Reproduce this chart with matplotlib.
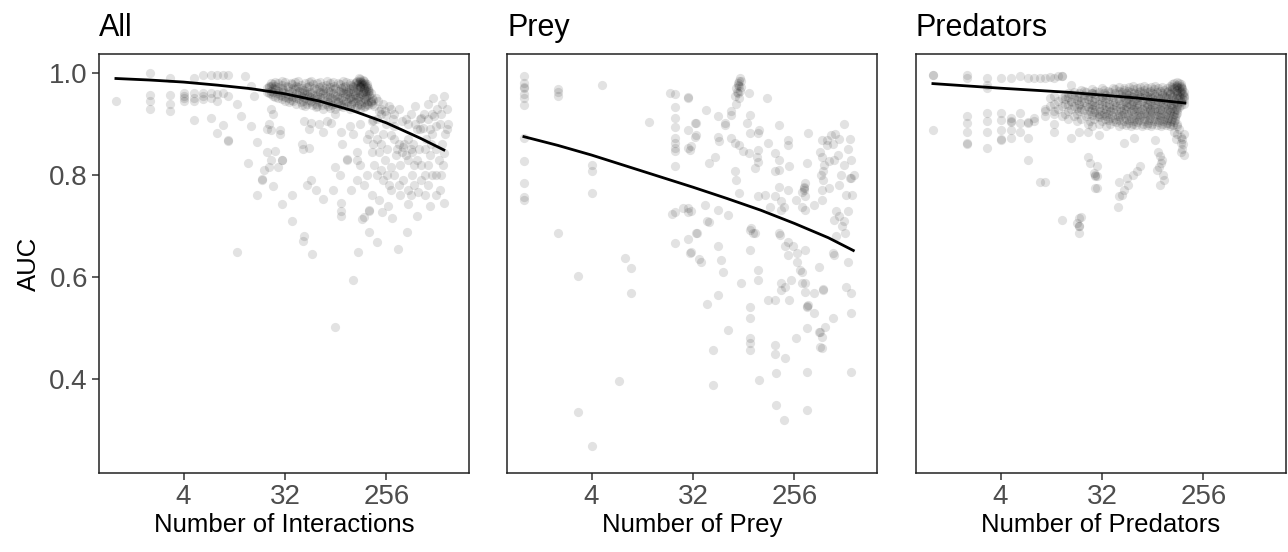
import numpy as np
import matplotlib
matplotlib.use("Agg")
import matplotlib.pyplot as plt

plt.rcParams["font.family"] = ["Liberation Sans", "DejaVu Sans"]

# -----------------------------
# Data
# -----------------------------
# All interactions: (number of interactions, AUC)
all_points = [
    (1, .945),
    (2, 1.0), (2, .957), (2, .945), (2, .93),
    (3, .99), (3, .957), (3, .94), (3, .925),
    (4, .96), (4, .95), (4, .945), (4, .955),
    (5, .99), (5, .96), (5, .95), (5, .945), (5, .908),
    (6, .995), (6, .955), (6, .96), (6, .948),
    (7, .995), (7, .96), (7, .95), (7, .912),
    (8, .995), (8, .958), (8, .945), (8, .882),
    (9, .995), (9, .96), (9, .898),
    (10, .995), (10, .955), (10, .868), (10, .866),
    (12, .94), (12, .65), (13, .916), (14, .994),
    (16, .975), (17, .955), (16, .896), (15, .824),
    (18, .865), (18, .76), (20, .79), (20, .792), (21, .81),
    (25, .778), (26, .847),
    (24, .975), (24, .93), (25, .92), (29, .888), (29, .88), (30, .83),
    # dense band
    (30, .985), (42, .985), (55, .985), (75, .985), (105, .985), (140, .985), (150, .988), (160, .985),
    (24, .98), (28, .98), (36, .98), (48, .98), (62, .98), (80, .98), (95, .98), (120, .98),
    (135, .98), (145, .982), (155, .98), (165, .98),
    (23, .975), (26, .975), (33, .975), (40, .975), (52, .975), (68, .975), (88, .975), (110, .975),
    (128, .975), (150, .975), (170, .975),
    (22, .97), (25, .97), (30, .97), (38, .97), (45, .97), (58, .97), (72, .97), (90, .97),
    (100, .97), (118, .97), (140, .97), (160, .97), (175, .97),
    (24, .965), (28, .965), (35, .965), (43, .965), (50, .965), (64, .965), (78, .965), (96, .965),
    (112, .965), (130, .965), (150, .965), (168, .965), (180, .965),
    (23, .96), (27, .96), (32, .96), (40, .96), (47, .96), (56, .96), (70, .96), (85, .96),
    (105, .96), (122, .96), (145, .96), (165, .96), (185, .96),
    (25, .955), (30, .955), (36, .955), (44, .955), (52, .955), (62, .955), (76, .955), (92, .955),
    (110, .955), (128, .955), (150, .955), (172, .955),
    (28, .95), (34, .95), (40, .95), (48, .95), (58, .95), (70, .95), (84, .95), (100, .95),
    (118, .95), (136, .95), (160, .95), (190, .95),
    (32, .945), (38, .945), (46, .945), (55, .945), (66, .945), (80, .945), (95, .945), (112, .945),
    (130, .945), (150, .945), (175, .945),
    (40, .94), (50, .94), (60, .94), (74, .94), (88, .94), (105, .94), (125, .94), (145, .94), (170, .94),
    (48, .935), (62, .935), (78, .935), (96, .935), (115, .935), (140, .935), (165, .935),
    (70, .93), (90, .93), (120, .93), (150, .93),
    (26, .983), (32, .982), (39, .983), (52, .982), (66, .983), (86, .982), (112, .983), (138, .982),
    (152, .983),
    (25, .978), (30, .977), (37, .978), (44, .977), (57, .978), (74, .977), (98, .978), (125, .977),
    (142, .978), (158, .977), (172, .978),
    (23, .973), (28, .972), (34, .973), (42, .972), (50, .973), (64, .972), (80, .973), (104, .972),
    (130, .973), (150, .972), (168, .973),
    (26, .968), (31, .967), (39, .968), (47, .967), (60, .968), (70, .967), (86, .968), (106, .967),
    (124, .968), (142, .967), (160, .968), (176, .967),
    (22, .963), (25, .962), (30, .963), (37, .962), (45, .963), (53, .962), (66, .963), (80, .962),
    (100, .963), (116, .962), (138, .963), (158, .962), (176, .963),
    (24, .958), (29, .957), (34, .958), (42, .957), (50, .958), (59, .957), (72, .958), (90, .957),
    (114, .958), (134, .957), (156, .958), (178, .957),
    (26, .953), (32, .952), (38, .953), (46, .952), (55, .953), (66, .952), (80, .953), (96, .952),
    (120, .953), (142, .952), (168, .953),
    (30, .948), (36, .947), (43, .948), (52, .947), (62, .948), (75, .947), (90, .948), (106, .947),
    (124, .948), (144, .947), (165, .948), (195, .947),
    (35, .943), (44, .942), (53, .943), (64, .942), (78, .943), (94, .942), (115, .943), (135, .942),
    (160, .943), (185, .942),
    (45, .938), (56, .937), (68, .938), (84, .937), (100, .938), (125, .937), (152, .938), (175, .937),
    (60, .933), (80, .932), (105, .933), (135, .932), (160, .933),
    (145, .99), (150, .984), (152, .978), (148, .972), (158, .986), (162, .978),
    (190, .94), (200, .935), (215, .945), (230, .93), (250, .925), (270, .935), (300, .92),
    (205, .95), (185, .945), (220, .925), (240, .94),
    # below the band
    (23, .90), (22, .89), (24, .888), (22, .845), (24, .83), (28, .815), (23, .815), (30, .83),
    (45, .86), (46, .85), (52, .853), (47, .905), (55, .902), (52, .89), (64, .90), (70, .885),
    (75, .905), (82, .902), (90, .92), (100, .885), (102, .86), (120, .895), (128, .88),
    (140, .845), (140, .83), (115, .83), (115, .832), (90, .815), (98, .80), (55, .79), (50, .78),
    (60, .77), (85, .77), (125, .77), (180, .88), (195, .86), (190, .845), (220, .845), (250, .83),
    (280, .815), (240, .88), (280, .878), (350, .845), (400, .83), (450, .82), (430, .80),
    (480, .83), (240, .79), (280, .77), (210, .80), (140, .79), (160, .78), (560, .85), (620, .84),
    (480, .89), (540, .892), (460, .90), (510, .91), (515, .912), (600, .91), (680, .915),
    (620, .89), (700, .895), (256, .918), (460, .935), (550, .92), (830, .955), (880, .89),
    (840, .843), (510, .89), (290, .91), (350, .905), (190, .905), (195, .908),
    (150, .90), (170, .87), (200, .89), (210, .87), (230, .86), (260, .85), (300, .87), (320, .85),
    (340, .82), (370, .86), (380, .84), (420, .85), (440, .86), (500, .85), (520, .82), (560, .80),
    (600, .82), (640, .86), (700, .85), (750, .83), (800, .86), (850, .88), (900, .90), (760, .90),
    (650, .88), (580, .87), (300, .80), (330, .78), (360, .79), (400, .77), (450, .78), (520, .79),
    (600, .78), (650, .80), (700, .80), (760, .77), (150, .82), (170, .80), (200, .82), (230, .81),
    (260, .80), (270, .78), (190, .76), (340, .76), (420, .76), (560, .76), (620, .74), (700, .76),
    (780, .80), (820, .82), (650, .92), (720, .93), (780, .92), (880, .93), (600, .94), (660, .95),
    (800, .94), (400, .90), (420, .92), (380, .91), (330, .93), (280, .93), (230, .92), (300, .895),
    (256, .90), (210, .91), (330, .86), (360, .855), (400, .87), (310, .84), (430, .845),
    # lower tail
    (37, .76), (30, .743), (69, .753), (37, .71), (47, .68), (46, .67), (56, .645), (128, .594),
    (90, .502), (143, .65), (180, .688), (210, .668), (325, .655), (390, .688), (840, .745),
    (480, .72), (285, .716), (155, .714), (160, .718), (180, .73), (180, .732), (235, .727),
    (100, .72), (100, .73), (100, .745), (220, .75), (265, .74), (400, .743), (490, .767),
]

# Prey: (number of prey, AUC)
prey_points = [
    (1, .994), (1, .98), (1, .971), (1, .972), (1, .959), (1, .95), (1, .937), (1, .873),
    (1, .827), (1, .785), (1, .757), (1, .751),
    (2, .968), (2, .962), (2, .955), (2, .686),
    (3, .602), (3, .335), (4, .82), (4, .808), (4, .765), (4, .269), (5, .976), (7, .396),
    (8, .637), (9, .617), (9, .569), (13, .904),
    (20, .96), (22, .958), (22, .934), (22, .911), (22, .893), (22, .872), (22, .862), (22, .853),
    (22, .846), (22, .817), (22, .727), (21, .723), (22, .667),
    (29, .953), (29, .889), (29, .853), (29, .735), (29, .674),
    (26, .735), (31, .729), (31, .856), (31, .649), (34, .902), (34, .879), (34, .686), (36, .635),
    (86, .985), (80, .98), (82, .975), (78, .97), (84, .965), (80, .96), (76, .955), (100, .96),
    (84, .99), (82, .984), (80, .977), (85, .972), (79, .962), (82, .95), (78, .94),
    (147, .951), (102, .918), (70, .918), (62, .902), (42, .928), (33, .902), (29, .95),
    (53, .875), (55, .866), (75, .862), (82, .859), (124, .889), (120, .849), (100, .843),
    (185, .898), (226, .869), (226, .859), (340, .882), (446, .869), (540, .879), (580, .83),
    (460, .807), (460, .79), (446, .771), (520, .774), (820, .794), (50, .836), (75, .807),
    (78, .79), (44, .823), (115, .813), (170, .807), (185, .83), (230, .817), (310, .774),
    (318, .758), (380, .741), (446, .751), (580, .712), (720, .686), (29, .728), (41, .741),
    (53, .732), (43, .709), (44, .707), (66, .722), (35, .686), (30, .647), (53, .66), (38, .63),
    (57, .633), (59, .61), (102, .653), (115, .686), (120, .614), (120, .594), (85, .588),
    (102, .692), (155, .738), (190, .683), (226, .669), (250, .66), (195, .732), (300, .738),
    (318, .732), (318, .653), (226, .643), (270, .63), (300, .61), (195, .575), (210, .581),
    (170, .555), (150, .555), (230, .555), (300, .588), (330, .542), (332, .544), (380, .568),
    (460, .575), (462, .577), (420, .62), (560, .647), (760, .63), (740, .581), (820, .568),
    (580, .643), (820, .529), (102, .542), (102, .519), (43, .548), (53, .565), (65, .496),
    (102, .48), (102, .47), (102, .457), (48, .457), (170, .467), (170, .45), (265, .48),
    (330, .50), (446, .483), (430, .493), (560, .519), (446, .46), (210, .441), (175, .411),
    (330, .414), (820, .414), (48, .388), (123, .398), (175, .349), (330, .339), (205, .32),
    (500, .859), (500, .869), (520, .827), (800, .794), (310, .777), (265, .751), (195, .748),
    (205, .738), (140, .761), (105, .696), (110, .686), (185, .686), (210, .66), (270, .647),
    (285, .614), (240, .594), (195, .588), (318, .588), (318, .571), (340, .545), (380, .529),
    (420, .493), (435, .463), (480, .503), (53, .915), (62, .898), (70, .872), (90, .846),
    (33, .875), (30, .849), (70, .925), (97, .902), (102, .882), (120, .882), (150, .862),
    (118, .836), (170, .843), (185, .81), (120, .826), (82, .764), (120, .758), (170, .758),
    (185, .777), (226, .771), (300, .767), (330, .823), (318, .784), (310, .771),
    (590, .88), (640, .87), (700, .90), (560, .86), (620, .84), (700, .82), (660, .80),
    (760, .85), (820, .83), (860, .80), (800, .87), (740, .76), (640, .78), (600, .73),
    (700, .71), (760, .73), (840, .76), (430, .845), (450, .835), (470, .82), (440, .80),
    (640, .72), (680, .70), (600, .68),
]

# Predators: (number of predators, AUC)
pred_points = [
    (1, .996), (1, .995), (1, .889),
    (2, .996), (2, .99), (2, .915), (2, .902), (2, .885), (2, .862), (2, .861),
    (3, .99), (3, .977), (3, .97), (3, .921), (3, .905), (3, .885), (3, .853),
    (4, .99), (4, .921), (4, .908), (4, .889), (4, .869), (4, .87),
    (5, .99), (5, .911), (5, .905), (5, .904), (5, .889), (5, .872),
    (6, .993), (6, .921), (6, .902), (6, .885),
    (7, .99), (7, .902), (7, .903), (7, .872), (7, .83),
    (8, .99), (8, .911), (8, .905), (9, .99), (10, .99), (11, .992), (9, .787), (10, .787),
    (10, .915), (12, .99), (12, .90), (12, .885), (13, .993), (14, .993), (14, .994),
    (17, .977), (21, .967), (26, .96), (17, .872), (20, .885),
    (24, .885), (24, .836), (25, .823), (27, .803), (28, .797), (28, .80), (28, .774),
    (14, .712), (20, .715), (20, .699), (20, .70), (21, .718), (20, .686), (19, .705),
    (45, .758), (44, .738), (48, .76), (53, .794), (45, .787), (70, .817), (65, .807), (60, .80),
    (55, .78), (50, .77), (29, .817), (29, .797), (29, .774), (30, .879), (50, .862), (62, .872),
    (95, .869),
    (100, .845), (105, .838), (110, .83), (108, .823), (102, .815), (98, .81), (112, .80),
    (115, .79), (105, .78),
    (140, .885), (150, .88), (160, .875), (165, .87), (170, .88), (155, .89), (145, .87),
    (160, .862), (168, .86), (165, .85), (170, .84), (160, .845),
    # dense cluster
    (140, .98), (150, .982), (155, .98),
    (60, .975), (75, .975), (95, .975), (130, .975), (145, .975), (160, .975),
    (32, .97), (40, .97), (50, .97), (65, .97), (80, .97), (100, .97), (120, .97), (140, .97),
    (155, .97), (165, .97),
    (22, .965), (28, .965), (36, .965), (45, .965), (55, .965), (70, .965), (85, .965),
    (105, .965), (125, .965), (145, .965), (160, .965),
    (16, .96), (20, .96), (26, .96), (33, .96), (42, .96), (52, .96), (62, .96), (75, .96),
    (90, .96), (110, .96), (130, .96), (150, .96), (165, .96),
    (12, .955), (15, .955), (19, .955), (24, .955), (30, .955), (38, .955), (48, .955), (58, .955),
    (68, .955), (80, .955), (95, .955), (115, .955), (135, .955), (155, .955), (170, .955),
    (11, .95), (14, .95), (18, .95), (22, .95), (28, .95), (35, .95), (44, .95), (54, .95),
    (64, .95), (76, .95), (90, .95), (105, .95), (125, .95), (145, .95), (165, .95),
    (13, .945), (17, .945), (21, .945), (26, .945), (32, .945), (40, .945), (50, .945),
    (60, .945), (72, .945), (86, .945), (100, .945), (118, .945), (140, .945), (160, .945),
    (12, .94), (15, .94), (20, .94), (25, .94), (30, .94), (37, .94), (46, .94),
    (56, .94), (66, .94), (80, .94), (95, .94), (112, .94), (132, .94), (150, .94), (170, .94),
    (11, .935), (14, .935), (18, .935), (23, .935), (28, .935), (35, .935), (43, .935),
    (52, .935), (62, .935), (75, .935), (90, .935), (108, .935), (128, .935), (150, .935),
    (10, .93), (13, .93), (17, .93), (21, .93), (26, .93), (33, .93), (40, .93),
    (50, .93), (60, .93), (72, .93), (86, .93), (104, .93), (125, .93), (145, .93),
    (10, .925), (12, .925), (16, .925), (20, .925), (25, .925), (31, .925), (38, .925),
    (47, .925), (58, .925), (70, .925), (85, .925), (100, .925), (120, .925), (140, .925),
    (12, .92), (15, .92), (19, .92), (24, .92), (30, .92), (36, .92), (45, .92),
    (55, .92), (68, .92), (82, .92), (98, .92), (118, .92), (140, .92),
    (14, .915), (18, .915), (23, .915), (29, .915), (35, .915), (44, .915),
    (54, .915), (66, .915), (80, .915), (96, .915), (116, .915), (138, .915),
    (16, .91), (21, .91), (27, .91), (34, .91), (42, .91), (52, .91), (64, .91),
    (78, .91), (95, .91), (115, .91), (135, .91),
    (19, .905), (25, .905), (32, .905), (40, .905), (50, .905), (62, .905),
    (76, .905), (92, .905), (112, .905), (132, .905),
    (24, .90), (30, .90), (38, .90), (48, .90), (60, .90), (74, .90), (90, .90),
    (110, .90), (130, .90), (150, .90),
    (26, .895), (35, .895), (45, .895), (58, .895), (72, .895), (88, .895), (108, .895),
    (128, .895), (148, .895),
    (135, .978), (150, .977), (160, .978),
    (45, .973), (56, .972), (70, .973), (88, .972), (110, .973), (135, .972), (150, .973), (162, .972),
    (26, .968), (33, .967), (42, .968), (50, .967), (60, .968), (75, .967), (92, .968), (115, .967),
    (135, .968), (150, .967), (165, .968),
    (18, .963), (23, .962), (30, .963), (38, .962), (48, .963), (58, .962), (68, .963), (82, .962),
    (98, .963), (120, .962), (140, .963), (158, .962), (170, .963),
    (17, .958), (22, .957), (28, .958), (35, .957), (45, .958), (55, .957), (65, .958), (78, .957),
    (92, .958), (110, .957), (128, .958), (148, .957), (168, .958),
    (16, .953), (20, .952), (25, .953), (32, .952), (40, .953), (50, .952), (60, .953), (70, .952),
    (85, .953), (100, .952), (118, .953), (138, .952), (158, .953), (172, .952),
    (15, .948), (19, .947), (24, .948), (30, .947), (36, .948), (45, .947), (55, .948), (66, .947),
    (80, .948), (95, .947), (112, .948), (132, .947), (152, .948), (170, .947),
    (17, .943), (22, .942), (27, .943), (34, .942), (42, .943), (52, .942), (60, .943), (72, .942),
    (88, .943), (104, .942), (124, .943), (142, .942), (162, .943),
    (16, .938), (20, .937), (26, .938), (32, .937), (40, .938), (48, .937), (58, .938), (68, .937),
    (82, .938), (98, .937), (118, .938), (138, .937), (160, .938),
    (19, .932), (24, .933), (30, .932), (37, .933), (46, .932), (55, .933), (66, .932),
    (80, .933), (95, .932), (114, .933), (135, .932), (155, .933),
    (22, .928), (28, .927), (35, .928), (43, .927), (52, .928), (64, .927),
    (78, .928), (92, .927), (110, .928), (130, .927), (150, .928),
    (27, .923), (33, .922), (40, .923), (50, .922), (62, .923), (75, .922),
    (90, .923), (108, .922), (128, .923), (148, .922),
    (26, .918), (32, .917), (39, .918), (48, .917), (60, .918), (72, .917),
    (88, .918), (105, .917), (126, .918), (145, .917),
    (30, .913), (38, .912), (46, .913), (58, .912), (70, .913), (86, .912),
    (104, .913), (125, .912), (142, .913),
    (36, .908), (45, .907), (56, .908), (68, .907), (84, .908), (102, .907),
    (122, .908), (142, .907),
    (43, .903), (54, .902), (66, .903), (82, .902), (100, .903), (120, .902), (140, .903),
    (52, .898), (64, .897), (80, .898), (98, .897), (118, .898), (138, .897),
]

# fitted curves
all_fit_n = [1, 2, 4, 8, 16, 32, 64, 128, 256, 512, 830]
all_fit_auc = [0.989, 0.986, 0.982, 0.976, 0.969, 0.959, 0.945, 0.926, 0.902, 0.872, 0.849]
prey_fit_n = [1, 2, 4, 8, 16, 32, 64, 128, 256, 512, 855]
prey_fit_auc = [0.875, 0.858, 0.839, 0.818, 0.797, 0.776, 0.754, 0.731, 0.705, 0.677, 0.652]
pred_fit_n = [1, 4, 16, 64, 175]
pred_fit_auc = [0.979, 0.970, 0.962, 0.951, 0.941]

titles = ["All", "Prey", "Predators"]
xlabels = ["Number of Interactions", "Number of Prey", "Number of Predators"]
xticks = [4, 32, 256]

# -----------------------------
# Plot
# -----------------------------
fig = plt.figure(figsize=(12.88, 5.52), dpi=100)
W, H = 1288, 552
lefts = [99, 507, 916]
panel_w = 370
top, bottom = 54, 473

panels = [
    (all_points, all_fit_n, all_fit_auc),
    (prey_points, prey_fit_n, prey_fit_auc),
    (pred_points, pred_fit_n, pred_fit_auc),
]

for i, (pts, fn, fa) in enumerate(panels):
    ax = fig.add_axes([lefts[i] / W, 1 - bottom / H, panel_w / W, (bottom - top) / H])
    pts = np.array(pts)
    ax.scatter(pts[:, 0], pts[:, 1], s=44, color="black", alpha=0.115, linewidths=0)
    ax.plot(fn, fa, color="black", lw=2.0)

    ax.set_xscale("log", base=2)
    ax.set_xlim(2 ** -0.5, 2 ** 10.44)
    ax.set_ylim(0.216, 1.037)
    ax.set_xticks(xticks)
    ax.set_xticklabels([str(t) for t in xticks])
    ax.minorticks_off()
    ax.tick_params(axis="both", direction="out", length=5, width=1.1,
                   color="#333333", labelsize=20, labelcolor="#4d4d4d", pad=3)
    for sp in ax.spines.values():
        sp.set_linewidth(1.1)
        sp.set_color("#222222")

    if i == 0:
        ax.set_yticks([0.4, 0.6, 0.8, 1.0])
        ax.set_yticklabels(["0.4", "0.6", "0.8", "1.0"])
        ax.set_ylabel("AUC", fontsize=18.5, labelpad=6)
    else:
        ax.set_yticks([])

    ax.set_xlabel(xlabels[i], fontsize=18.5, labelpad=2)
    ax.set_title(titles[i], loc="left", fontsize=22, pad=13)

fig.savefig("out.png", dpi=100)
